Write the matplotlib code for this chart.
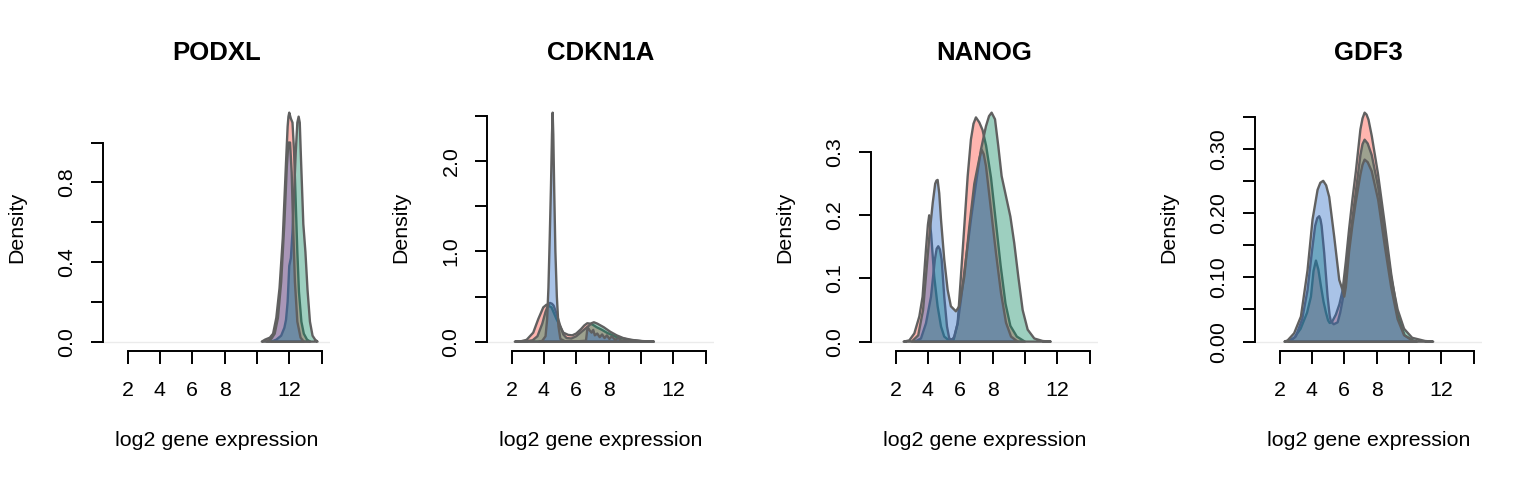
import matplotlib
matplotlib.use('Agg')
import matplotlib.pyplot as plt
from matplotlib.colors import to_rgba

plt.rcParams['font.family'] = ['Liberation Sans', 'DejaVu Sans']

GENES = ['PODXL', 'CDKN1A', 'NANOG', 'GDF3']
GROUPS = ['red', 'green', 'blue']   # drawn in this order
GROUP_COLORS = {'red': '#FF4639', 'green': '#0C8761', 'blue': '#2869C5'}
FILL_ALPHA = 0.4
EDGE_COLOR = '#606060'

X_RANGE = (1, 14)
X_TICKS = [2, 4, 6, 8, 10, 12, 14]
X_TICKLABELS = ['2', '4', '6', '8', '', '12', '']

# --- densities (log2 expression, density) ---
podxl_red_x = [10.3, 10.5, 10.8, 11.0, 11.2, 11.4, 11.6, 11.8, 11.9, 11.95, 12.0, 12.1,
               12.2, 12.3, 12.4, 12.5, 12.6, 12.75, 12.9, 13.1, 13.3]
podxl_red_y = [0, 0.01, 0.02, 0.04, 0.12, 0.27, 0.52, 0.9, 1.08, 1.13, 1.15, 1.12,
               1.1, 0.95, 0.7, 0.45, 0.25, 0.1, 0.04, 0.01, 0]
podxl_green_x = [10.9, 11.2, 11.5, 11.7, 11.8, 11.9, 12.0, 12.1, 12.2, 12.3, 12.4, 12.5,
                 12.58, 12.65, 12.72, 12.87, 13.0, 13.13, 13.28, 13.44, 13.6, 13.75]
podxl_green_y = [0, 0.01, 0.03, 0.07, 0.11, 0.2, 0.38, 0.42, 0.55, 0.75, 0.95, 1.1,
                 1.13, 1.1, 0.93, 0.59, 0.45, 0.26, 0.1, 0.03, 0.01, 0]
podxl_blue_x = [10.6, 10.9, 11.1, 11.3, 11.5, 11.7, 11.85, 11.95, 12.05, 12.15, 12.25,
                12.35, 12.5, 12.7, 12.9]
podxl_blue_y = [0, 0.015, 0.04, 0.12, 0.3, 0.6, 0.88, 1.0, 1.0, 0.85, 0.55,
                0.3, 0.1, 0.02, 0]

cdkn1a_red_x = [2.2, 2.6, 2.93, 3.34, 3.65, 3.96, 4.16, 4.47, 4.78, 5.2, 5.5, 5.75, 6.0,
                6.3, 6.5, 6.68, 6.85, 7.0, 7.26, 7.6, 7.88, 8.5, 9.3, 10.1, 10.8]
cdkn1a_red_y = [0, 0.005, 0.02, 0.1, 0.25, 0.38, 0.41, 0.38, 0.25, 0.1, 0.075, 0.07, 0.09,
                0.14, 0.18, 0.204, 0.2, 0.19, 0.16, 0.13, 0.1, 0.05, 0.02, 0.005, 0]
cdkn1a_green_x = [2.3, 2.9, 3.3, 3.6, 3.9, 4.1, 4.25, 4.37, 4.5, 4.6, 4.8, 5.0, 5.2, 5.4,
                  5.7, 6.0, 6.4, 6.8, 6.95, 7.09, 7.3, 7.7, 8.1, 8.5, 8.9, 9.4, 10.0, 10.8]
cdkn1a_green_y = [0, 0.005, 0.015, 0.06, 0.2, 0.33, 0.4, 0.43, 0.42, 0.4, 0.3, 0.18, 0.08,
                  0.04, 0.035, 0.06, 0.12, 0.18, 0.205, 0.215, 0.2, 0.16, 0.11, 0.07, 0.04,
                  0.02, 0.007, 0]
cdkn1a_blue_x = [3.7, 3.9, 4.1, 4.2, 4.28, 4.36, 4.44, 4.5, 4.54, 4.58, 4.64, 4.71, 4.8,
                 4.9, 5.02, 5.3, 6.0, 6.6, 6.7, 6.85, 6.95, 7.05, 7.15, 7.3, 7.45, 7.6,
                 7.75, 7.9, 8.05, 8.2, 8.4, 8.6, 8.8, 9.0, 9.2]
cdkn1a_blue_y = [0, 0.01, 0.06, 0.25, 0.6, 1.15, 1.75, 2.3, 2.54, 2.3, 1.65, 1.0, 0.5,
                 0.17, 0.03, 0.005, 0.003, 0.01, 0.16, 0.12, 0.1, 0.13, 0.07, 0.09, 0.05,
                 0.08, 0.04, 0.07, 0.03, 0.06, 0.02, 0.04, 0.01, 0.015, 0]

nanog_red_x = [2.5, 2.85, 3.16, 3.47, 3.67, 3.88, 4.0, 4.08, 4.2, 4.39, 4.6, 4.81, 5.01,
               5.3, 5.6, 5.84, 6.04, 6.25, 6.46, 6.66, 6.82, 6.97, 7.18, 7.38, 7.6, 7.9,
               8.2, 8.5, 8.8, 9.1, 9.5, 10.0]
nanog_red_y = [0, 0.002, 0.013, 0.04, 0.071, 0.146, 0.185, 0.2, 0.17, 0.103, 0.056, 0.024,
               0.008, 0.002, 0.004, 0.029, 0.103, 0.182, 0.262, 0.32, 0.345, 0.355, 0.347,
               0.335, 0.31, 0.26, 0.19, 0.12, 0.06, 0.025, 0.008, 0]
nanog_green_x = [3.2, 3.57, 3.88, 4.19, 4.43, 4.54, 4.64, 4.74, 4.85, 5.01, 5.18, 5.32,
                 5.5, 5.63, 5.84, 6.04, 6.35, 6.66, 6.97, 7.28, 7.59, 7.78, 7.94, 8.15,
                 8.35, 8.56, 8.83, 9.1, 9.34, 9.59, 9.86, 10.17, 10.58, 11.1, 11.6]
nanog_green_y = [0, 0.005, 0.029, 0.071, 0.13, 0.147, 0.151, 0.146, 0.13, 0.071, 0.024,
                 0.005, 0.003, 0.008, 0.029, 0.066, 0.13, 0.193, 0.25, 0.304, 0.341, 0.357,
                 0.3625, 0.352, 0.31, 0.262, 0.23, 0.198, 0.156, 0.103, 0.05, 0.019, 0.005,
                 0.001, 0]
nanog_blue_x = [3.0, 3.4, 3.7, 3.9, 4.1, 4.3, 4.45, 4.53, 4.6, 4.7, 4.81, 5.01, 5.22,
                5.42, 5.73, 5.94, 6.25, 6.56, 6.87, 7.18, 7.32, 7.45, 7.59, 7.9, 8.21,
                8.52, 8.83, 9.14, 9.55]
nanog_blue_y = [0, 0.01, 0.05, 0.11, 0.17, 0.22, 0.25, 0.255, 0.256, 0.235, 0.193, 0.13,
                0.082, 0.056, 0.048, 0.056, 0.103, 0.182, 0.25, 0.29, 0.304, 0.297, 0.278,
                0.209, 0.14, 0.077, 0.03, 0.008, 0]

gdf3_red_x = [2.5, 2.9, 3.3, 3.7, 3.94, 4.1, 4.25, 4.4, 4.56, 4.72, 4.87, 5.0, 5.1, 5.25,
              5.48, 5.7, 5.9, 6.1, 6.3, 6.5, 6.72, 7.0, 7.13, 7.26, 7.38, 7.5, 7.7, 8.08,
              8.5, 8.9, 9.32, 9.73, 10.35]
gdf3_red_y = [0, 0.006, 0.02, 0.045, 0.07, 0.11, 0.126, 0.112, 0.086, 0.062, 0.045, 0.033,
              0.029, 0.031, 0.042, 0.058, 0.08, 0.125, 0.175, 0.22, 0.265, 0.33, 0.347,
              0.356, 0.353, 0.345, 0.32, 0.262, 0.184, 0.106, 0.039, 0.01, 0]
gdf3_green_x = [2.6, 3.0, 3.4, 3.73, 4.0, 4.2, 4.33, 4.45, 4.53, 4.6, 4.76, 4.97, 5.1,
                5.18, 5.35, 5.59, 5.75, 5.9, 6.1, 6.3, 6.5, 6.7, 7.0, 7.13, 7.26, 7.45,
                7.7, 8.1, 8.5, 8.9, 9.3, 9.7, 10.2, 11.0, 11.5]
gdf3_green_y = [0, 0.008, 0.035, 0.08, 0.14, 0.18, 0.192, 0.195, 0.19, 0.18, 0.138, 0.07,
                0.04, 0.031, 0.027, 0.03, 0.045, 0.065, 0.1, 0.15, 0.19, 0.23, 0.29, 0.307,
                0.314, 0.308, 0.29, 0.24, 0.17, 0.1, 0.05, 0.02, 0.006, 0.001, 0]
gdf3_blue_x = [2.3, 2.5, 2.9, 3.32, 3.73, 4.04, 4.35, 4.52, 4.7, 4.88, 5.07, 5.38, 5.69,
               5.9, 6.0, 6.1, 6.3, 6.5, 6.7, 7.0, 7.13, 7.26, 7.45, 7.7, 8.1, 8.5, 8.9,
               9.3, 9.7, 10.2, 10.5]
gdf3_blue_y = [0, 0.002, 0.013, 0.039, 0.111, 0.19, 0.236, 0.247, 0.25, 0.243, 0.225,
               0.163, 0.096, 0.08, 0.07, 0.085, 0.14, 0.18, 0.215, 0.26, 0.275, 0.283,
               0.279, 0.265, 0.22, 0.15, 0.085, 0.035, 0.01, 0.002, 0]

podxl_yticks = [0, 0.2, 0.4, 0.6, 0.8, 1.0]
podxl_ylabels = ['0.0', '', '0.4', '', '0.8', '']
cdkn1a_yticks = [0, 0.5, 1.0, 1.5, 2.0, 2.5]
cdkn1a_ylabels = ['0.0', '', '1.0', '', '2.0', '']
nanog_yticks = [0, 0.1, 0.2, 0.3]
nanog_ylabels = ['0.0', '0.1', '0.2', '0.3']
gdf3_yticks = [0, 0.05, 0.10, 0.15, 0.20, 0.25, 0.30, 0.35]
gdf3_ylabels = ['0.00', '', '0.10', '', '0.20', '', '0.30', '']

CURVES = {
    'PODXL': {'red': (podxl_red_x, podxl_red_y), 'green': (podxl_green_x, podxl_green_y),
              'blue': (podxl_blue_x, podxl_blue_y)},
    'CDKN1A': {'red': (cdkn1a_red_x, cdkn1a_red_y), 'green': (cdkn1a_green_x, cdkn1a_green_y),
               'blue': (cdkn1a_blue_x, cdkn1a_blue_y)},
    'NANOG': {'red': (nanog_red_x, nanog_red_y), 'green': (nanog_green_x, nanog_green_y),
              'blue': (nanog_blue_x, nanog_blue_y)},
    'GDF3': {'red': (gdf3_red_x, gdf3_red_y), 'green': (gdf3_green_x, gdf3_green_y),
             'blue': (gdf3_blue_x, gdf3_blue_y)},
}
YTICKS = {
    'PODXL': (podxl_yticks, podxl_ylabels),
    'CDKN1A': (cdkn1a_yticks, cdkn1a_ylabels),
    'NANOG': (nanog_yticks, nanog_ylabels),
    'GDF3': (gdf3_yticks, gdf3_ylabels),
}

W, H = 1536, 480
fig = plt.figure(figsize=(W / 100, H / 100), dpi=100)
fig.patch.set_facecolor('white')

PANEL_W = 384
AX_LEFT, AX_RIGHT = 103, 330        # pixel edges of the plot region inside a panel
AX_TOP, AX_BOTTOM = 103.5, 350.8

for i, gene in enumerate(GENES):
    left = (PANEL_W * i + AX_LEFT) / W
    ax = fig.add_axes([left, 1 - AX_BOTTOM / H, (AX_RIGHT - AX_LEFT) / W,
                       (AX_BOTTOM - AX_TOP) / H])

    ax.axhline(0, color='#ebebeb', lw=1, zorder=0.5)
    ymax = 0
    for grp in GROUPS:
        xs, ys = CURVES[gene][grp]
        ax.fill(xs, ys, facecolor=to_rgba(GROUP_COLORS[grp], FILL_ALPHA),
                edgecolor=EDGE_COLOR, linewidth=1.7, joinstyle='round')
        ymax = max(ymax, max(ys))

    pad = 0.04 * (X_RANGE[1] - X_RANGE[0])
    ax.set_xlim(X_RANGE[0] - pad, X_RANGE[1] + pad)
    ax.set_ylim(-0.04 * ymax, 1.04 * ymax)

    yt, yl = YTICKS[gene]
    ax.set_xticks(X_TICKS)
    ax.set_xticklabels(X_TICKLABELS)
    ax.set_yticks(yt)
    ax.set_yticklabels(yl, rotation=90, va='center')

    for side in ['top', 'right']:
        ax.spines[side].set_visible(False)
    ax.spines['left'].set_bounds(0, yt[-1])
    ax.spines['bottom'].set_bounds(X_TICKS[0], X_TICKS[-1])
    for side in ['left', 'bottom']:
        ax.spines[side].set_linewidth(1.4)
    ax.tick_params(direction='out', length=9, width=1.4, labelsize=15.4)
    ax.tick_params(axis='x', pad=13)
    ax.tick_params(axis='y', pad=10)
    ax.set_facecolor('none')

    ax.set_title(gene, fontsize=18.5, fontweight='bold', pad=31)
    ax.set_xlabel('log2 gene expression', fontsize=15.4)
    ax.set_ylabel('Density', fontsize=15.4)
    ax.xaxis.set_label_coords(0.5, -0.325)
    ax.yaxis.set_label_coords(-0.34, 0.5)

fig.savefig('out.png', dpi=100, facecolor='white')
